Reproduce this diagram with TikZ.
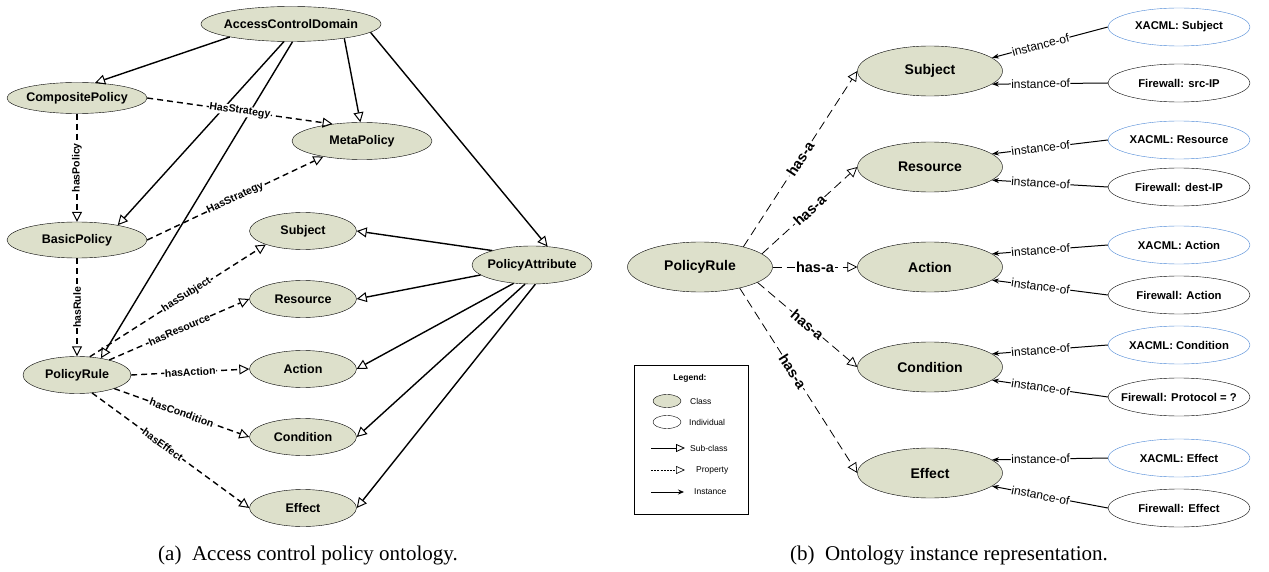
\documentclass[tikz,border=0pt]{standalone}
\usepackage{fontspec}
\setmainfont{Liberation Serif}
\setsansfont{Liberation Sans}
\usetikzlibrary{shapes.geometric,arrows.meta}
\definecolor{clsfill}{RGB}{221,224,203}
\definecolor{indblue}{RGB}{74,134,214}
\newcommand{\clscol}{clsfill}
\newcommand{\indcol}{indblue}

\begin{document}
\begin{tikzpicture}[x=1pt, y=-1pt,
    cls/.style={ellipse, draw, fill=\clscol, inner ysep=0pt, inner xsep=-12pt, font=\sffamily\bfseries\fontsize{12.5}{14}\selectfont},
    lcls/.style={cls, minimum width=107, minimum height=37},
    rcls/.style={cls, minimum width=145, minimum height=50, font=\sffamily\bfseries\fontsize{14}{16}\selectfont},
    ind/.style={ellipse, draw, fill=white, inner ysep=0pt, inner xsep=-8pt, minimum width=142, minimum height=38, font=\sffamily\bfseries\fontsize{11.3}{13}\selectfont},
    xind/.style={ind, draw=\indcol},
    subcl/.style={line width=1.4pt, -{Triangle[open, length=10pt, width=10pt, line width=1pt]}},
    prop/.style={subcl, dash pattern=on 6pt off 4pt},
    hasa/.style={line width=0.8pt, dash pattern=on 9pt off 5pt, -{Triangle[open, length=10pt, width=10pt, line width=0.8pt]}},
    inst/.style={line width=1pt, -{Stealth[length=7pt, width=5pt]}},
    lbl/.style={midway, sloped, fill=white, inner sep=0.5pt, font=\sffamily\bfseries\fontsize{10.5}{12}\selectfont},
    hlbl/.style={midway, sloped, fill=white, inner sep=1pt, font=\sffamily\bfseries\fontsize{14.5}{16}\selectfont},
    ilbl/.style={pos=0.58, sloped, fill=white, inner sep=0.5pt, font=\sffamily\fontsize{12}{13}\selectfont},
    lgd/.style={font=\sffamily\fontsize{8.5}{10}\selectfont, anchor=west, inner sep=1pt}]

    \useasboundingbox (0,0) rectangle (1269,572);

    % (a) ontology
    \node[cls, minimum width=180, minimum height=35] (acd) at (291,24) {AccessControlDomain};
    \node[cls, minimum width=140, minimum height=31] (comp) at (77,98) {CompositePolicy};
    \node[cls, minimum width=140, minimum height=37] (meta) at (362,141) {MetaPolicy};
    \node[cls, minimum width=140, minimum height=36] (basic) at (77,240) {BasicPolicy};
    \node[lcls, minimum width=108] (lrule) at (77,375) {PolicyRule};
    \node[cls, minimum width=120, minimum height=38] (pattr) at (532,265) {PolicyAttribute};
    \node[lcls] (lsub) at (303,231) {Subject};
    \node[lcls] (lres) at (303,299) {Resource};
    \node[lcls] (lact) at (303,369) {Action};
    \node[lcls] (lcond) at (303,437) {Condition};
    \node[lcls] (leff) at (303,508) {Effect};

    \draw[subcl] (acd.192) -- (comp.40);
    \draw[subcl] (acd.-15) -- (meta.95);
    \draw[subcl] (acd.-112) -- (basic.20);
    \draw[subcl] (acd.-85) -- (lrule.35);
    \draw[subcl] (acd.-6) -- (pattr.50);
    \draw[subcl] (pattr.160) -- (lsub.east);
    \draw[subcl] (pattr) -- (lres.east);
    \draw[subcl] (pattr.225) -- (lact.east);
    \draw[subcl] (pattr.250) -- (lcond.east);
    \draw[subcl] (pattr.-80) -- (leff.east);

    \draw[prop] (comp.east) -- (meta.150) node[lbl] {HasStrategy};
    \draw[prop] (comp.south) -- (basic.north) node[lbl, sloped=false, rotate=90] {hasPolicy};
    \draw[prop] (basic.east) -- (meta.-158) node[lbl] {HasStrategy};
    \draw[prop] (basic.south) -- (lrule.north) node[lbl, sloped=false, rotate=90] {hasRule};
    \draw[prop] (lrule.55) -- (lsub.200) node[lbl, pos=0.55] {hasSubject};
    \draw[prop] (lrule.25) -- (lres.west) node[lbl] {hasResource};
    \draw[prop] (lrule.east) -- (lact.west) node[lbl] {hasAction};
    \draw[prop] (lrule.-20) -- (lcond.west) node[lbl] {hasCondition};
    \draw[prop] (lrule.-50) -- (leff.west) node[lbl, pos=0.45] {hasEffect};

    % (b) instances
    \node[rcls] (rrule) at (700,267) {PolicyRule};
    \node[rcls] (rsub) at (930,71) {Subject};
    \node[rcls] (rres) at (930,167) {Resource};
    \node[rcls] (ract) at (930,267) {Action};
    \node[rcls] (rcond) at (930,367) {Condition};
    \node[rcls] (reff) at (930,473) {Effect};

    \node[xind] (xsub) at (1179,27) {XACML: Subject};
    \node[ind] (fsub) at (1179,83) {Firewall: src-IP};
    \node[xind] (xres) at (1179,140) {XACML: Resource};
    \node[ind] (fres) at (1179,187) {Firewall: dest-IP};
    \node[xind] (xact) at (1179,245) {XACML: Action};
    \node[ind] (fact) at (1179,295) {Firewall: Action};
    \node[xind] (xcond) at (1179,345) {XACML: Condition};
    \node[ind] (fcond) at (1179,397) {Firewall: Protocol = ?};
    \node[xind] (xeff) at (1179,458) {XACML: Effect};
    \node[ind] (feff) at (1179,508) {Firewall: Effect};

    \draw[hasa] (rrule.25) -- (rsub.west) node[hlbl] {has-a};
    \draw[hasa] (rrule.12) -- (rres.west) node[hlbl] {has-a};
    \draw[hasa] (rrule.east) -- (ract.west) node[hlbl] {has-a};
    \draw[hasa] (rrule.-15) -- (rcond.west) node[hlbl] {has-a};
    \draw[hasa] (rrule.-28) -- (reff.west) node[hlbl, pos=0.45] {has-a};

    \draw[inst] (xsub.west) -- (rsub.12) node[ilbl] {instance-of};
    \draw[inst] (fsub.west) -- (rsub.-12) node[ilbl] {instance-of};
    \draw[inst] (xres.west) -- (rres.12) node[ilbl] {instance-of};
    \draw[inst] (fres.west) -- (rres.-12) node[ilbl] {instance-of};
    \draw[inst] (xact.west) -- (ract.12) node[ilbl] {instance-of};
    \draw[inst] (fact.west) -- (ract.-12) node[ilbl] {instance-of};
    \draw[inst] (xcond.west) -- (rcond.12) node[ilbl] {instance-of};
    \draw[inst] (fcond.west) -- (rcond.-12) node[ilbl] {instance-of};
    \draw[inst] (xeff.west) -- (reff.12) node[ilbl] {instance-of};
    \draw[inst] (feff.west) -- (reff.-12) node[ilbl] {instance-of};

    % legend
    \draw (634,365) rectangle (748,514);
    \node[font=\sffamily\bfseries\fontsize{8.5}{10}\selectfont] (lgdtitle) at (690,378) {Legend:};
    \node[ellipse, draw, fill=\clscol, minimum width=28, minimum height=13, inner sep=0pt] (lgdcls) at (667,401) {};
    \node[lgd] (lgdclst) at (689,401) {Class};
    \node[ellipse, draw, fill=white, minimum width=28, minimum height=13, inner sep=0pt] (lgdind) at (667,422) {};
    \node[lgd] (lgdindt) at (688,422) {Individual};
    \coordinate (sa) at (651,448);
    \coordinate (sb) at (685,448);
    \draw[line width=0.8pt, -{Triangle[open, length=9pt, width=8pt]}] (sa) -- (sb);
    \node[lgd] (lgdsubt) at (689,448) {Sub-class};
    \coordinate (pa) at (651,470);
    \coordinate (pb) at (685,470);
    \draw[line width=0.6pt, dash pattern=on 2pt off 1.2pt, -{Triangle[open, length=9pt, width=8pt]}] (pa) -- (pb);
    \node[lgd] (lgdpropt) at (695,470) {Property};
    \coordinate (ia) at (651,492);
    \coordinate (ib) at (684,492);
    \draw[line width=0.8pt, -{Stealth[length=6pt, width=5pt]}] (ia) -- (ib);
    \node[lgd] (lgdinst) at (693,492) {Instance};

    % captions
    \node[font=\fontsize{21}{23}\selectfont] (capa) at (308,555) {(a)~~Access control policy ontology.};
    \node[font=\fontsize{21}{23}\selectfont] (capb) at (949,555) {(b)~~Ontology instance representation.};
  \end{tikzpicture}
\end{document}
